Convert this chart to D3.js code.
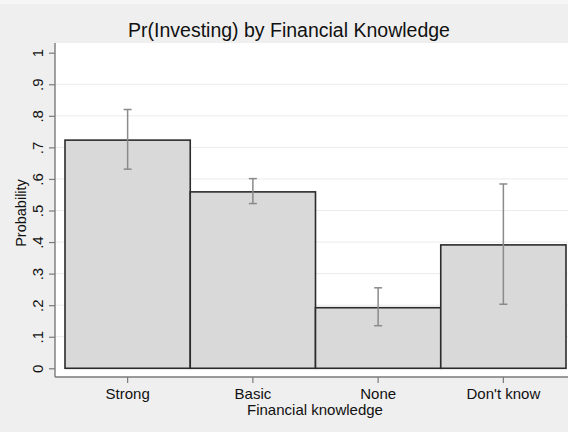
<!DOCTYPE html>
<html>
<head>
<meta charset="utf-8">
<script src="https://cdn.jsdelivr.net/npm/d3@7"></script>
<style>
  html, body { margin: 0; padding: 0; background: #efefef; }
  svg { display: block; font-family: "Liberation Sans", Arial, Helvetica, sans-serif; }
</style>
</head>
<body>
<svg id="chart" width="568" height="432"></svg>
<script>
// Predicted probability of investing, by level of financial knowledge
const categories = ["Strong", "Basic", "None", "Don't know"];
const probability = [0.723, 0.559, 0.192, 0.391];
const ciLower = [0.631, 0.522, 0.135, 0.203];
const ciUpper = [0.820, 0.601, 0.255, 0.584];
const yTicks = [0, 0.1, 0.2, 0.3, 0.4, 0.5, 0.6, 0.7, 0.8, 0.9, 1];
const yTickLabels = ["0", ".1", ".2", ".3", ".4", ".5", ".6", ".7", ".8", ".9", "1"];

const svg = d3.select("#chart");
const W = 568, H = 432;
const ink = "#111111";

// page background with a slightly lighter top strip
svg.append("rect").attr("width", W).attr("height", H).attr("fill", "#efefef");
svg.append("rect").attr("width", W).attr("height", 4).attr("fill", "#f6f6f6");

// plot region
const region = { left: 55, right: 568, top: 43, bottom: 377 };
svg.append("rect")
  .attr("x", region.left).attr("y", region.top)
  .attr("width", region.right - region.left)
  .attr("height", region.bottom - region.top)
  .attr("fill", "#ffffff");

const y = d3.scaleLinear().domain([0, 1]).range([368.3, 52.7]);
const x = d3.scaleBand().domain(categories).range([65, 566]).padding(0);

// horizontal grid lines
svg.append("g")
  .selectAll("line")
  .data(yTicks.filter(t => t > 0 && t < 1))
  .join("line")
  .attr("x1", region.left).attr("x2", region.right)
  .attr("y1", d => y(d)).attr("y2", d => y(d))
  .attr("stroke", "#ebebeb").attr("stroke-width", 1);

// bars
svg.append("g")
  .selectAll("rect")
  .data(categories)
  .join("rect")
  .attr("x", d => x(d))
  .attr("y", (d, i) => y(probability[i]))
  .attr("width", x.bandwidth())
  .attr("height", (d, i) => y(0) - y(probability[i]))
  .attr("fill", "#d9d9d9")
  .attr("stroke", "#2b2b2b")
  .attr("stroke-width", 1.6);

// confidence intervals
const ci = svg.append("g").attr("stroke", "#8a8a8a").attr("stroke-width", 1.5);
categories.forEach((c, i) => {
  const cx = x(c) + x.bandwidth() / 2;
  ci.append("line").attr("x1", cx).attr("x2", cx)
    .attr("y1", y(ciLower[i])).attr("y2", y(ciUpper[i]));
  [ciLower[i], ciUpper[i]].forEach(v => {
    ci.append("line").attr("x1", cx - 4).attr("x2", cx + 4)
      .attr("y1", y(v)).attr("y2", y(v));
  });
});

// y axis
const yAxis = svg.append("g")
  .attr("transform", `translate(${region.left},0)`)
  .call(d3.axisLeft(y).tickValues(yTicks)
    .tickFormat((d, i) => yTickLabels[i]).tickSize(6).tickPadding(4));
yAxis.select(".domain").attr("stroke", "#7a7a7a").attr("stroke-width", 1.4)
  .attr("d", `M0,${region.top}V${region.bottom}`);
yAxis.selectAll(".tick line").attr("stroke", "#7a7a7a").attr("stroke-width", 1.2);
yAxis.selectAll(".tick text")
  .attr("fill", ink).attr("font-size", 15)
  .attr("transform", "rotate(-90)")
  .attr("x", 0).attr("y", -12)
  .attr("text-anchor", "middle")
  .attr("dy", "0");

// x axis
const xAxis = svg.append("g")
  .attr("transform", `translate(0,${region.bottom})`)
  .call(d3.axisBottom(x).tickSize(6).tickPadding(5));
xAxis.select(".domain").attr("stroke", "#7a7a7a").attr("stroke-width", 1.4)
  .attr("d", `M${region.left},0H${region.right}`);
xAxis.selectAll(".tick line").attr("stroke", "#7a7a7a").attr("stroke-width", 1.2);
xAxis.selectAll(".tick text").attr("fill", ink).attr("font-size", 15);

// axis titles
svg.append("text")
  .attr("x", 315).attr("y", 415)
  .attr("text-anchor", "middle")
  .attr("font-size", 15).attr("fill", ink)
  .text("Financial knowledge");

svg.append("text")
  .attr("transform", "translate(26,213) rotate(-90)")
  .attr("text-anchor", "middle")
  .attr("font-size", 14.5).attr("fill", ink)
  .text("Probability");

// title
svg.append("text")
  .attr("x", 289).attr("y", 37)
  .attr("text-anchor", "middle")
  .attr("font-size", 19.5).attr("fill", ink)
  .text("Pr(Investing) by Financial Knowledge");
</script>
</body>
</html>
